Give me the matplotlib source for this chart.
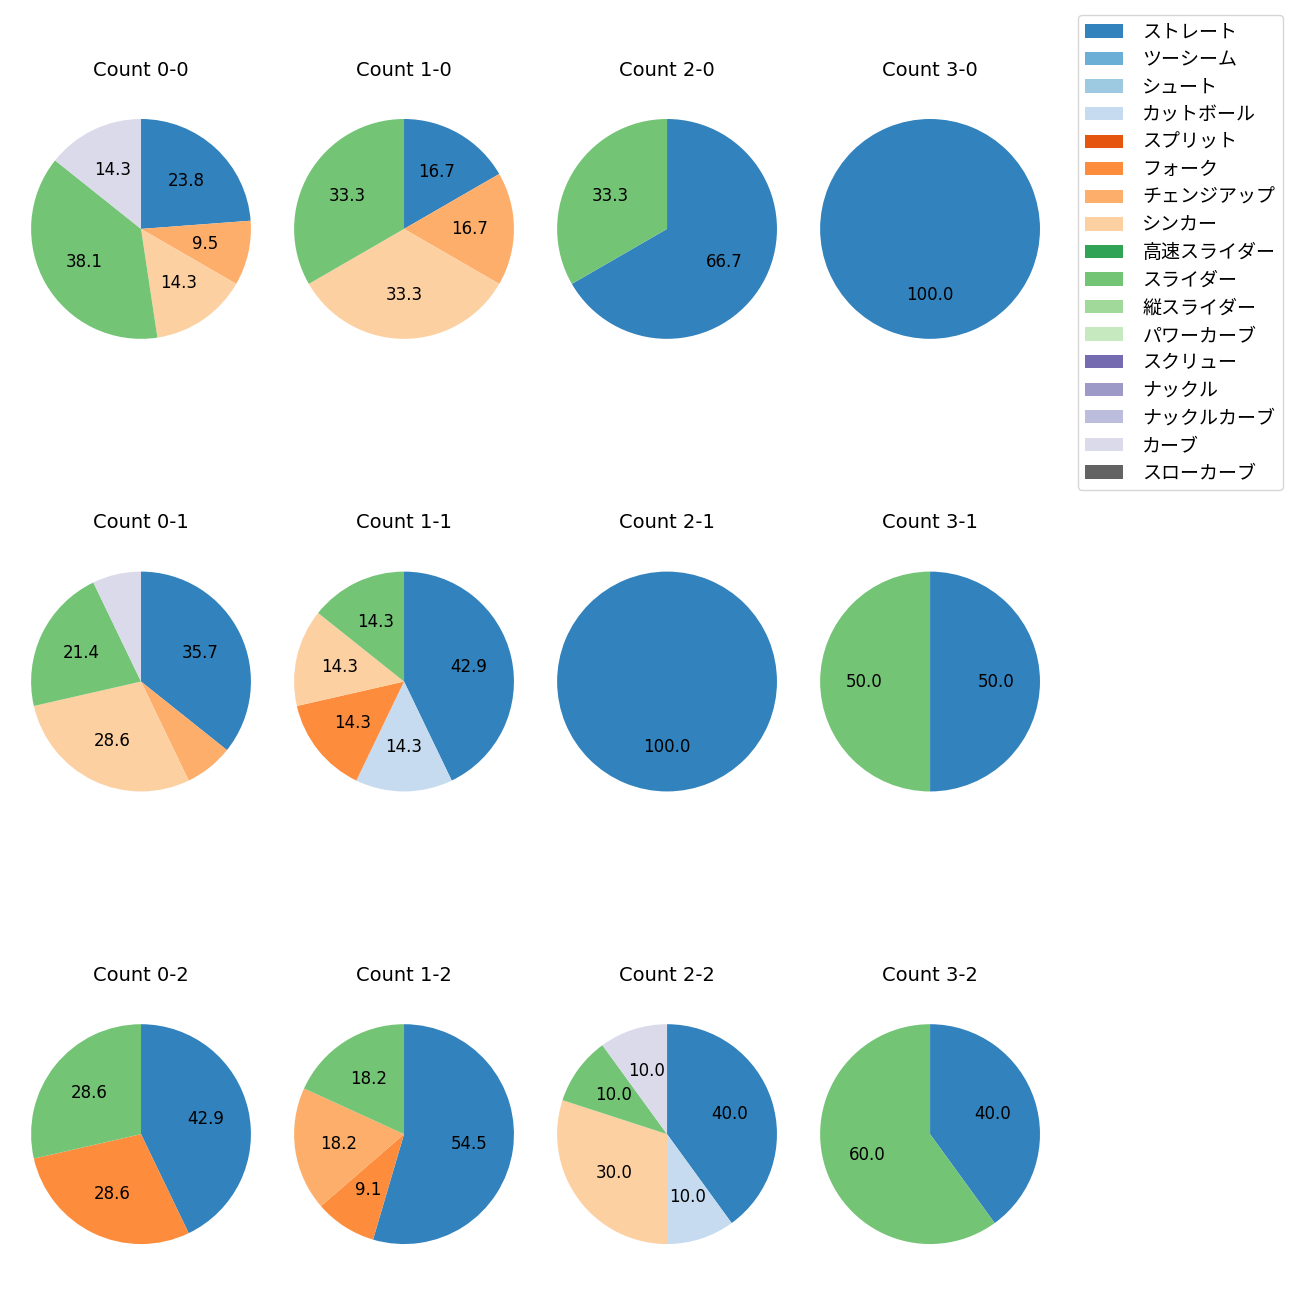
import matplotlib
matplotlib.use("Agg")
import matplotlib.pyplot as plt
from matplotlib.patches import Patch
import numpy as np

plt.rcParams['font.family'] = ['DejaVu Sans', 'Noto Sans CJK JP']

pitch_types = ['ストレート', 'ツーシーム', 'シュート', 'カットボール', 'スプリット', 'フォーク',
               'チェンジアップ', 'シンカー', '高速スライダー', 'スライダー', '縦スライダー',
               'パワーカーブ', 'スクリュー', 'ナックル', 'ナックルカーブ', 'カーブ', 'スローカーブ']

count_labels = ['0-0', '1-0', '2-0', '3-0',
                '0-1', '1-1', '2-1', '3-1',
                '0-2', '1-2', '2-2', '3-2']

# pitch counts per ball-strike count, in pitch_types order
#               St Tw Sh Cu Sp Fo Ch Si HS Sl VS PC Sc Kn KC Cv SC
c_0_0 = [5, 0, 0, 0, 0, 0, 2, 3, 0, 8, 0, 0, 0, 0, 0, 3, 0]
c_1_0 = [1, 0, 0, 0, 0, 0, 1, 2, 0, 2, 0, 0, 0, 0, 0, 0, 0]
c_2_0 = [2, 0, 0, 0, 0, 0, 0, 0, 0, 1, 0, 0, 0, 0, 0, 0, 0]
c_3_0 = [1, 0, 0, 0, 0, 0, 0, 0, 0, 0, 0, 0, 0, 0, 0, 0, 0]
c_0_1 = [5, 0, 0, 0, 0, 0, 1, 4, 0, 3, 0, 0, 0, 0, 0, 1, 0]
c_1_1 = [3, 0, 0, 1, 0, 1, 0, 1, 0, 1, 0, 0, 0, 0, 0, 0, 0]
c_2_1 = [1, 0, 0, 0, 0, 0, 0, 0, 0, 0, 0, 0, 0, 0, 0, 0, 0]
c_3_1 = [1, 0, 0, 0, 0, 0, 0, 0, 0, 1, 0, 0, 0, 0, 0, 0, 0]
c_0_2 = [3, 0, 0, 0, 0, 2, 0, 0, 0, 2, 0, 0, 0, 0, 0, 0, 0]
c_1_2 = [6, 0, 0, 0, 0, 1, 2, 0, 0, 2, 0, 0, 0, 0, 0, 0, 0]
c_2_2 = [4, 0, 0, 1, 0, 0, 0, 3, 0, 1, 0, 0, 0, 0, 0, 1, 0]
c_3_2 = [2, 0, 0, 0, 0, 0, 0, 0, 0, 3, 0, 0, 0, 0, 0, 0, 0]

all_counts = [c_0_0, c_1_0, c_2_0, c_3_0,
              c_0_1, c_1_1, c_2_1, c_3_1,
              c_0_2, c_1_2, c_2_2, c_3_2]

cmap = plt.get_cmap('tab20c')
colors = [cmap(i) for i in range(16)] + ['#636363']

fig = plt.figure(figsize=(13, 13), dpi=100)
gs = fig.add_gridspec(3, 4, left=0.0027, right=0.8212, top=0.9296, bottom=0.0219,
                      wspace=-0.0436, hspace=0.647)

def fmt(p):
    return f'{p:.1f}' if p >= 8 else ''

for i, (lab, vals) in enumerate(zip(count_labels, all_counts)):
    ax = fig.add_subplot(gs[i // 4, i % 4])
    vals = np.array(vals, dtype=float)
    idx = [k for k in range(len(vals)) if vals[k] > 0]
    ax.pie(vals[idx], colors=[colors[k] for k in idx], startangle=90,
           counterclock=False, autopct=fmt, textprops={'fontsize': 12})
    ax.set_title(f'Count {lab}', fontsize=14, pad=11.5)

handles = [Patch(facecolor=colors[k], label=pitch_types[k]) for k in range(len(pitch_types))]
fig.legend(handles=handles, loc='upper right', bbox_to_anchor=(1283 / 1300, 1 - 15 / 1300),
           borderaxespad=0, fontsize=13.7, labelspacing=0.45, handletextpad=1.0)

fig.savefig('out.png', dpi=100)
